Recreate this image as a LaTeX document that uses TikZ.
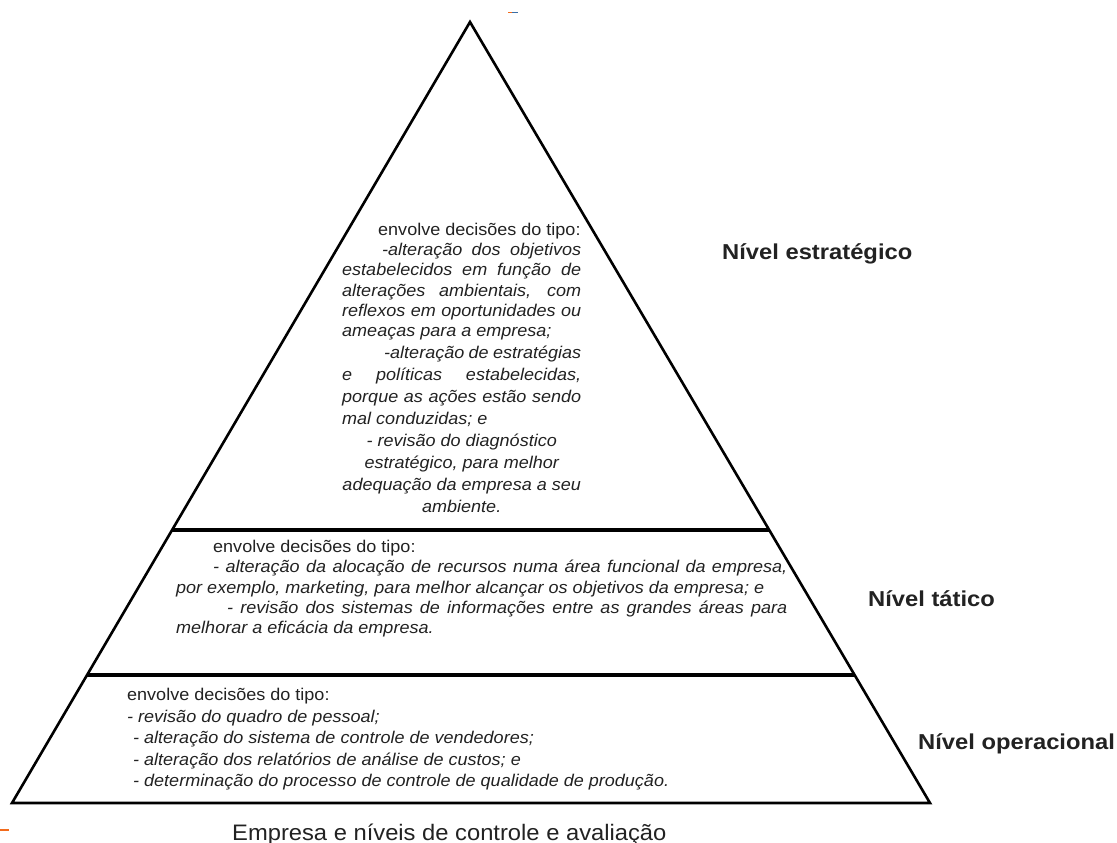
\documentclass[tikz,border=0pt]{standalone}
\usepackage{fontspec}
\usetikzlibrary{calc}
\setmainfont{Liberation Sans}[FakeStretch=1.06]
\newfontfamily\labfont{Liberation Sans}[FakeStretch=1.1]
\newcommand\myJ[1]{\hbox to\hsize{#1}}
\newcommand\myL[1]{\hbox to\hsize{#1\hfil}}
\newcommand\myC[1]{\hbox to\hsize{\hfil#1\hfil}}
\definecolor{txt}{HTML}{222222}
\definecolor{dashor}{HTML}{F26B1D}
\definecolor{dashbl}{HTML}{3A6EA5}
\tikzset{
  edge/.style={line width=2.6pt, line join=miter, line cap=butt, black},
  band/.style={line width=3.2pt, black},
  block/.style={anchor=base west, inner sep=0pt, text=txt, font=\fontsize{17}{20.2}\selectfont},
  level/.style={anchor=base west, inner sep=0pt, text=txt, font=\labfont\bfseries\fontsize{21.6}{24}\selectfont},
  caption/.style={anchor=base west, inner sep=0pt, text=txt, font=\fontsize{22.4}{24}\selectfont},
}
\begin{document}
\begin{tikzpicture}[x=1pt,y=-1pt]
\useasboundingbox[fill=white] (0,0) rectangle (1117,843);
% pyramid
\coordinate (apex) at (470,22);
\coordinate (bl) at (12,803);
\coordinate (br) at (930,803);
\coordinate (l1) at ($(apex)!0.6505!(bl)$);
\coordinate (r1) at ($(apex)!0.6505!(br)$);
\coordinate (l2) at ($(apex)!0.8361!(bl)$);
\coordinate (r2) at ($(apex)!0.8361!(br)$);
\draw[edge] (bl) -- (apex) -- (br) -- cycle;
\draw[band] (l1) -- (r1);
\draw[band] (l2) -- (r2);
% top block
\node[block] (topblock) at (342,235.5) {\vtop{\hsize=239pt\baselineskip=20.2pt
\myL{\hskip36pt envolve decisões do tipo:}
\itshape
\myJ{\hskip40pt -alteração dos objetivos}
\myJ{estabelecidos em função de}
\myJ{alterações ambientais, com}
\myJ{reflexos em oportunidades ou}
\myL{ameaças para a empresa;}
\vskip1.8pt
\myJ{\hskip42pt -alteração de estratégias}
\vskip1.8pt
\myJ{e políticas estabelecidas,}
\vskip1.8pt
\myJ{porque as ações estão sendo}
\vskip1.8pt
\myL{mal conduzidas; e}
\vskip1.8pt
\myC{- revisão do diagnóstico}
\vskip1.8pt
\myC{estratégico, para melhor}
\vskip1.8pt
\myC{adequação da empresa a seu}
\vskip1.8pt
\myC{ambiente.}
}};
% middle block
\node[block] (midblock) at (176,552.5) {\vtop{\hsize=611pt\baselineskip=20.3pt
\myL{\hskip37pt envolve decisões do tipo:}
\itshape
\myJ{\hskip37pt - alteração da alocação de recursos numa área funcional da empresa,}
\myL{por exemplo, marketing, para melhor alcançar os objetivos da empresa; e}
\myJ{\hskip51pt - revisão dos sistemas de informações entre as grandes áreas para}
\myL{melhorar a eficácia da empresa.}
}};
% bottom block
\node[block] (botblock) at (127,700.5) {\vtop{\hsize=560pt\baselineskip=21.5pt
\myL{envolve decisões do tipo:}
\itshape
\myL{- revisão do quadro de pessoal;}
\myL{\hskip6pt - alteração do sistema de controle de vendedores;}
\myL{\hskip6pt - alteração dos relatórios de análise de custos; e}
\myL{\hskip6pt - determinação do processo de controle de qualidade de produção.}
}};
% level labels
\node[level] (estr) at (722,259.7) {Nível estratégico};
\node[level] (tat) at (868,606.7) {Nível tático};
\node[level] (oper) at (918,749.7) {Nível operacional};
% caption
\node[caption] (cap) at (232,840) {Empresa e níveis de controle e avaliação};
% small marks
\draw[dashor, line width=2pt] (0,830) -- (9,830);
\draw[dashor, line width=1.2pt] (508,12.5) -- (512,12.5);
\draw[dashbl, line width=1.2pt] (512,12.5) -- (518,12.5);
\end{tikzpicture}
\end{document}
